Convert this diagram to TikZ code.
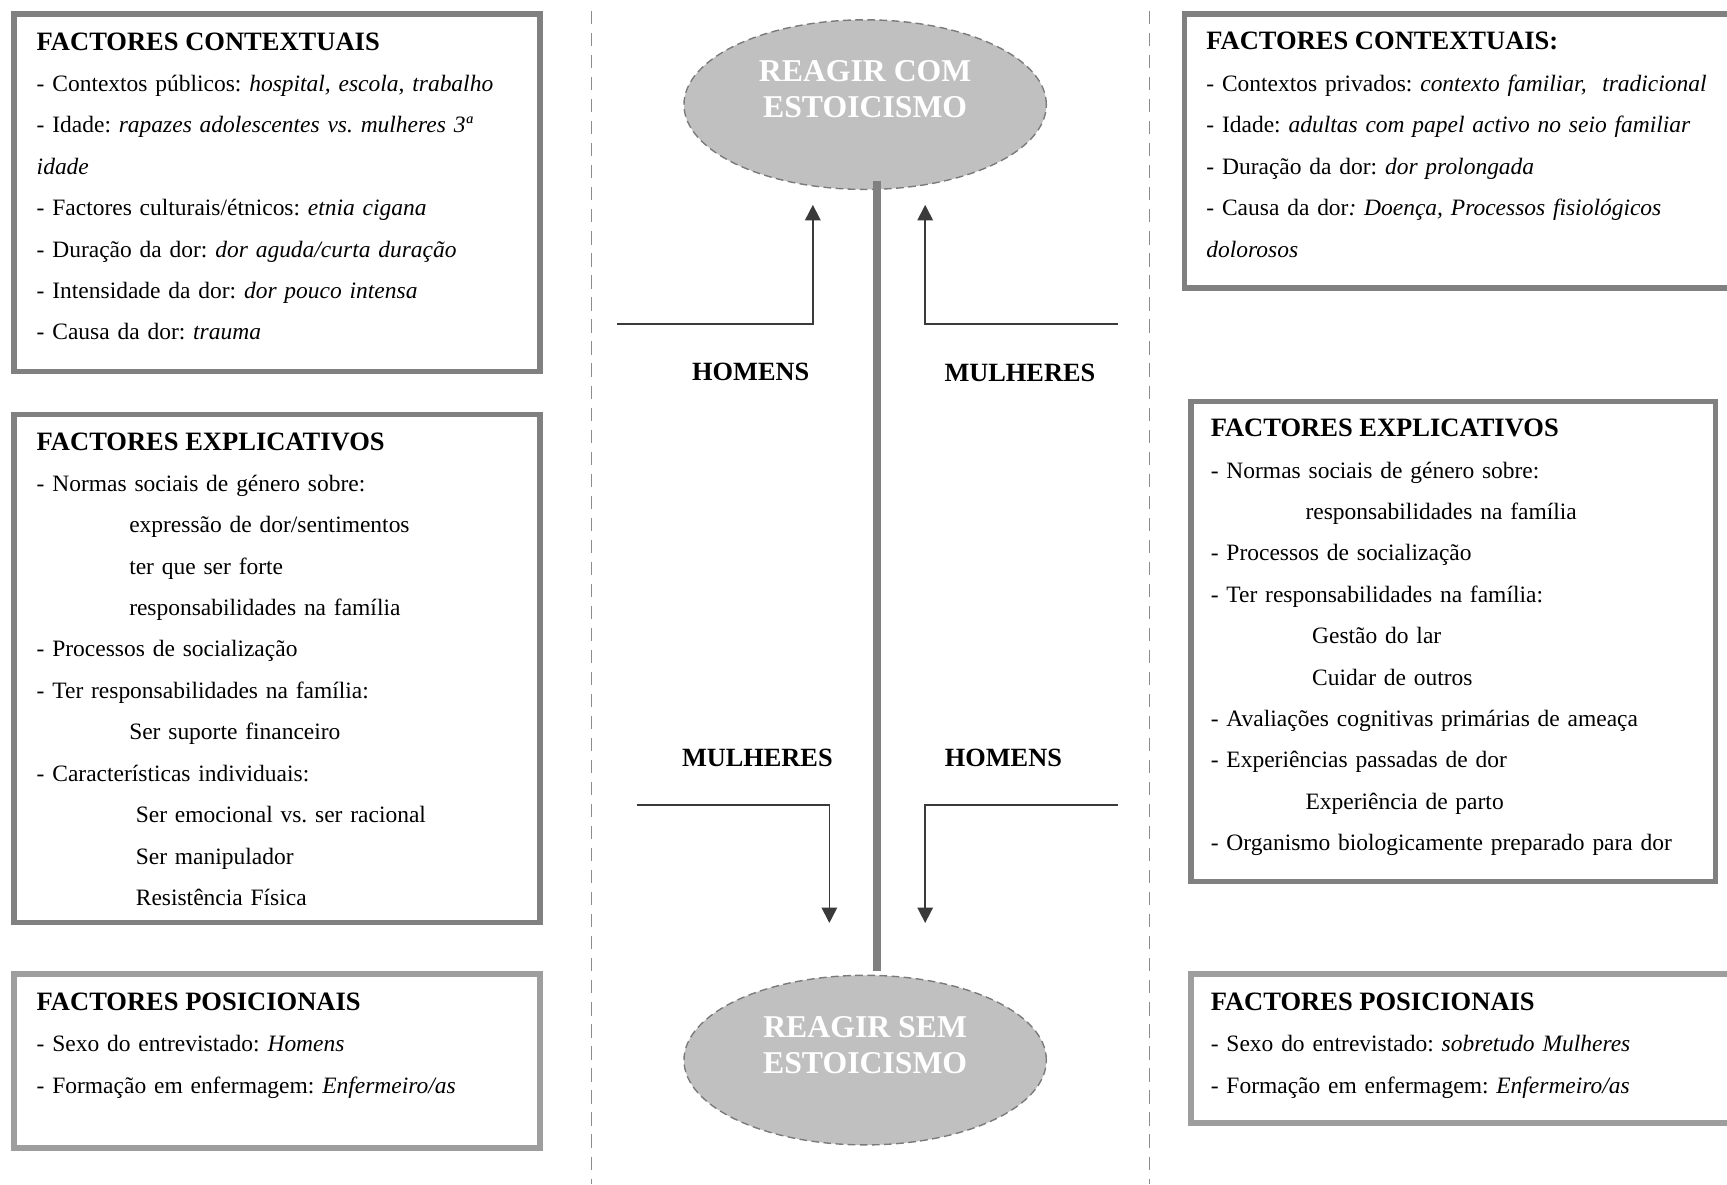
\documentclass[tikz,border=0pt]{standalone}
\usepackage{fontspec}
\setmainfont{Liberation Serif}
\usepackage{tikz}
\usetikzlibrary{shapes.geometric, arrows.meta, positioning, calc}
\definecolor{FrameGrey}{HTML}{808080}
\definecolor{FrameLight}{HTML}{9E9E9E}
\definecolor{OvalGrey}{HTML}{C0C0C0}
\definecolor{OvalEdge}{HTML}{7A7A7A}
\definecolor{BarGrey}{HTML}{808080}
\definecolor{ArrowGrey}{HTML}{3A3A3A}
\definecolor{DividerGrey}{HTML}{8C8C8C}
\frenchspacing
\tikzset{
  factorbox/.style={rectangle, draw=FrameGrey, line width=1mm, fill=white, minimum width=95.6mm},
  posbox/.style={factorbox, draw=FrameLight},
  boxtitle/.style={anchor=base west, inner sep=0pt, font=\fontsize{13.7}{16}\selectfont\bfseries},
  boxitems/.style={anchor=base west, inner sep=0pt, text width=100mm, align=left, font=\fontsize{12.13}{21.4}\selectfont\frenchspacing},
  reactoval/.style={ellipse, draw=OvalEdge, fill=OvalGrey, line width=0.25mm, dash pattern=on 1.4mm off 0.8mm, minimum width=65.8mm, minimum height=30.8mm},
  ovaltext/.style={text=white, align=center, font=\fontsize{16.4}{19}\selectfont\bfseries},
  genderlabel/.style={font=\fontsize{13.6}{16}\selectfont\bfseries},
  elbowarrow/.style={-{Triangle[length=2.8mm, width=2.8mm]}, draw=ArrowGrey, line width=0.3mm},
  axisbar/.style={draw=BarGrey, line width=1.4mm},
  divider/.style={draw=DividerGrey, line width=0.2mm, dash pattern=on 2.4mm off 1.6mm}
}

\begin{document}
\begin{tikzpicture}[x=0.2mm, y=-0.2mm]
  \useasboundingbox (0,0) rectangle (1568,1075);

  % column dividers
  \draw[divider] (537,10) -- (537,1075);
  \draw[divider] (1044,10) -- (1044,1075);

  % left column
  \node[factorbox, minimum height=65mm] (ctxL) at (251.5,175) {};
  \node[boxtitle] (ctxLtitle) at (33,46) {FACTORES CONTEXTUAIS};
  \node[boxitems] (ctxLtext) at (33,83) {- Contextos públicos: \textit{hospital, escola, trabalho}\\
    - Idade: \textit{rapazes adolescentes vs. mulheres 3ª}\\
    \textit{idade}\\
    - Factores culturais/étnicos: \textit{etnia cigana}\\
    - Duração da dor: \textit{dor aguda/curta duração}\\
    - Intensidade da dor: \textit{dor pouco intensa}\\
    - Causa da dor: \textit{trauma}};

  \node[factorbox, minimum height=92.2mm] (expL) at (251.5,607) {};
  \node[boxtitle] (expLtitle) at (33,409) {FACTORES EXPLICATIVOS};
  \node[boxitems] (expLtext) at (33,446) {- Normas sociais de género sobre:\\
    \hspace*{16.8mm}expressão de dor/sentimentos\\
    \hspace*{16.8mm}ter que ser forte\\
    \hspace*{16.8mm}responsabilidades na família\\
    - Processos de socialização\\
    - Ter responsabilidades na família:\\
    \hspace*{16.8mm}Ser suporte financeiro\\
    - Características individuais:\\
    \hspace*{18mm}Ser emocional vs. ser racional\\
    \hspace*{18mm}Ser manipulador\\
    \hspace*{18mm}Resistência Física};

  \node[posbox, minimum height=31.6mm] (posL) at (251.5,963.5) {};
  \node[boxtitle] (posLtitle) at (33,917) {FACTORES POSICIONAIS};
  \node[boxitems] (posLtext) at (33,955) {- Sexo do entrevistado: \textit{Homens}\\
    - Formação em enfermagem: \textit{Enfermeiro/as}};

  % right column
  \node[factorbox, minimum width=99.2mm, minimum height=49.8mm] (ctxR) at (1323.5,137) {};
  \node[boxtitle] (ctxRtitle) at (1095,45) {FACTORES CONTEXTUAIS:};
  \node[boxitems] (ctxRtext) at (1095,83) {- Contextos privados: \textit{contexto familiar, \ tradicional}\\
    - Idade: \textit{adultas com papel activo no seio familiar}\\
    - Duração da dor: \textit{dor prolongada}\\
    - Causa da dor\textit{: Doença, Processos fisiológicos}\\
    \textit{dolorosos}};

  \node[factorbox, minimum width=95.2mm, minimum height=87.2mm] (expR) at (1319.5,582.5) {};
  \node[boxtitle] (expRtitle) at (1099,396) {FACTORES EXPLICATIVOS};
  \node[boxitems] (expRtext) at (1099,434) {- Normas sociais de género sobre:\\
    \hspace*{17.2mm}responsabilidades na família\\
    - Processos de socialização\\
    - Ter responsabilidades na família:\\
    \hspace*{18.4mm}Gestão do lar\\
    \hspace*{18.4mm}Cuidar de outros\\
    - Avaliações cognitivas primárias de ameaça\\
    - Experiências passadas de dor\\
    \hspace*{17.2mm}Experiência de parto\\
    - Organismo biologicamente preparado para dor};

  \node[posbox, minimum width=98mm, minimum height=27mm] (posR) at (1326.5,952) {};
  \node[boxtitle] (posRtitle) at (1099,917) {FACTORES POSICIONAIS};
  \node[boxitems] (posRtext) at (1099,955) {- Sexo do entrevistado: \textit{sobretudo Mulheres}\\
    - Formação em enfermagem: \textit{Enfermeiro/as}};

  % centre: the two reactions
  \node[reactoval] (com) at (785.5,95) {};
  \node[ovaltext] (comtext) at ([yshift=2.8mm]com.center) {REAGIR COM\\ESTOICISMO};
  \node[reactoval] (sem) at (785.5,962.5) {};
  \node[ovaltext] (semtext) at ([yshift=2.7mm]sem.center) {REAGIR SEM\\ESTOICISMO};
  \draw[axisbar] ([xshift=2.2mm, yshift=1.6mm]com.south) -- ([xshift=2.2mm, yshift=0.6mm]sem.north);

  \node[genderlabel] (homensUp) at (681.6,337.5) {HOMENS};
  \node[genderlabel] (mulheresUp) at (926,339) {MULHERES};
  \node[genderlabel] (mulheresDown) at (687.6,688.5) {MULHERES};
  \node[genderlabel] (homensDown) at (911,688.5) {HOMENS};

  \coordinate (homensUpIn) at (560,294);
  \coordinate (homensUpTip) at (738,186);
  \coordinate (mulheresUpIn) at (1015,294);
  \coordinate (mulheresUpTip) at (840,186);
  \coordinate (mulheresDownIn) at (578,731);
  \coordinate (mulheresDownTip) at (753,838);
  \coordinate (homensDownIn) at (1015,731);
  \coordinate (homensDownTip) at (840,838);

  \draw[elbowarrow] (homensUpIn) -| (homensUpTip);
  \draw[elbowarrow] (mulheresUpIn) -| (mulheresUpTip);
  \draw[elbowarrow] (mulheresDownIn) -| (mulheresDownTip);
  \draw[elbowarrow] (homensDownIn) -| (homensDownTip);
\end{tikzpicture}
\end{document}
